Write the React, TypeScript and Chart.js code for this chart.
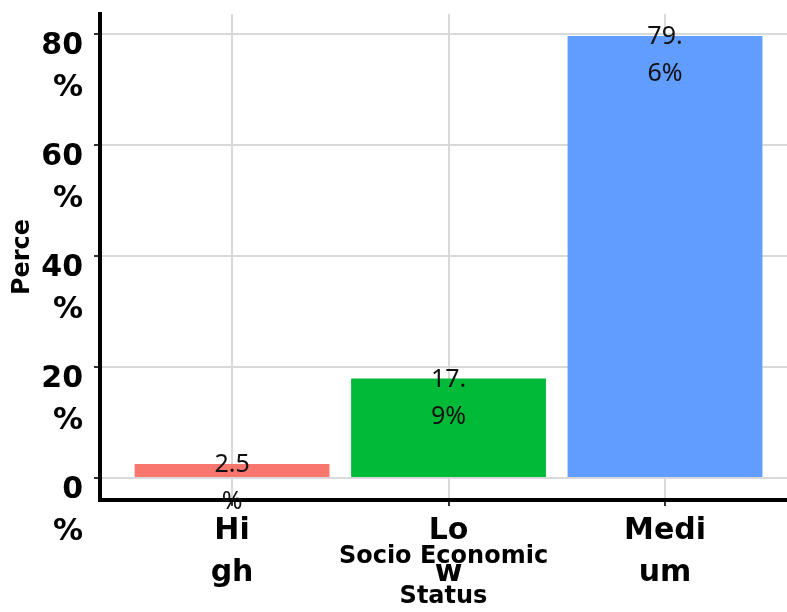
import React, { useEffect, useRef } from 'react';
import { Chart, registerables } from 'chart.js';

Chart.register(...registerables);

const categories = ['High', 'Low', 'Medium'];
const categoryTickLines = [['Hi', 'gh'], ['Lo', 'w'], ['Medi', 'um']];
const percentages = [2.5, 17.9, 79.6];
const barColors = ['#F8766D', '#00BA38', '#619CFF'];
const yTickValues = [0, 20, 40, 60, 80];
const yAxisTitle = 'Perce';
const xAxisTitle = ['Socio Economic', 'Status'];

const chunk = (s: string, n: number) => {
  const out: string[] = [];
  for (let i = 0; i < s.length; i += n) out.push(s.slice(i, i + n));
  return out;
};

const valueLabelPlugin = {
  id: 'valueLabels',
  afterDraw(chart: any) {
    const ctx = chart.ctx;
    const meta = chart.getDatasetMeta(0);
    ctx.save();
    ctx.font = '25px "Noto Sans"';
    ctx.fillStyle = '#111111';
    ctx.textAlign = 'center';
    ctx.textBaseline = 'middle';
    meta.data.forEach((el: any, i: number) => {
      const lines = chunk(`${percentages[i]}%`, 3);
      lines.forEach((line, j) => ctx.fillText(line, el.x, el.y + 1 + j * 37));
    });
    ctx.restore();
  },
};

export default function App() {
  const ref = useRef<HTMLCanvasElement>(null);
  useEffect(() => {
    if (!ref.current) return;
    const boldFont = { family: 'DejaVu Sans', weight: 'bold' as const };
    const chart = new Chart(ref.current, {
      type: 'bar',
      data: {
        datasets: [
          {
            label: 'Percent',
            data: categories.map((c, i) => ({ x: i + 1, y: percentages[i] })),
            backgroundColor: barColors,
            borderWidth: 0,
            barPercentage: 0.9,
            categoryPercentage: 1,
          },
        ],
      },
      plugins: [valueLabelPlugin],
      options: {
        animation: false,
        responsive: false,
        devicePixelRatio: 1,
        layout: { padding: { top: 14, left: 0, right: 0, bottom: 0 } },
        plugins: { legend: { display: false }, tooltip: { enabled: false } },
        scales: {
          x: {
            type: 'linear',
            offset: false,
            min: 0.39,
            max: 3.5635,
            afterBuildTicks: (s: any) => {
              s.ticks = categories.map((_, i) => ({ value: i + 1 }));
            },
            afterFit: (s: any) => {
              s.height = 112;
              s.paddingLeft = 0;
              s.paddingRight = 0;
            },
            ticks: {
              callback: (v: any) => categoryTickLines[Math.round(Number(v)) - 1],
              color: '#000',
              font: { ...boldFont, size: 30, lineHeight: 1.4 },
              padding: 4,
              maxRotation: 0,
              autoSkip: false,
            },
            grid: { offset: false, color: '#d9d9d9', lineWidth: 2, tickColor: '#333', tickLength: 6 },
            border: { color: '#000', width: 4 },
            title: {
              display: true,
              text: xAxisTitle,
              color: '#000',
              font: { ...boldFont, size: 24, lineHeight: 1.67 },
              padding: { top: 0, bottom: -5 },
            },
          },
          y: {
            min: -3.98,
            max: 83.58,
            afterBuildTicks: (s: any) => {
              s.ticks = yTickValues.map((v) => ({ value: v }));
            },
            afterFit: (s: any) => {
              s.width = 100;
              s.paddingTop = 0;
              s.paddingBottom = 0;
            },
            ticks: {
              callback: (v: any) => [String(v), '%'],
              color: '#000',
              font: { ...boldFont, size: 30, lineHeight: 1.4 },
              padding: 11,
              labelOffset: 33,
            },
            grid: { color: '#d9d9d9', lineWidth: 2, tickColor: '#333', tickLength: 6 },
            border: { color: '#000', width: 4 },
            title: {
              display: true,
              text: yAxisTitle,
              color: '#000',
              font: { ...boldFont, size: 24, lineHeight: 1.2 },
              padding: { top: 8, bottom: 0 },
            },
          },
        },
      },
    });
    return () => chart.destroy();
  }, []);
  return (
    <div style={{ position: 'fixed', left: 0, top: 0, width: 787, height: 612, background: '#fff' }}>
      <canvas ref={ref} width={787} height={612} />
    </div>
  );
}
